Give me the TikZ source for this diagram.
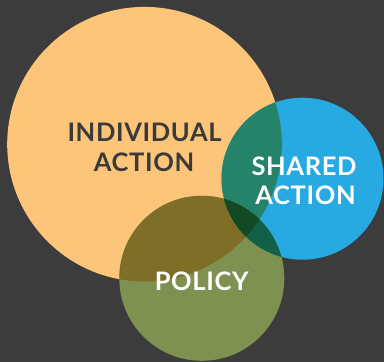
\documentclass[tikz,border=0pt]{standalone}
\usepackage{fontspec}
\setmainfont{Lato}[UprightFont=* Bold, LetterSpace=2.5]
\definecolor{bgc}{HTML}{3C3C3C}
\definecolor{orc}{HTML}{FCC57A}
\definecolor{blc}{HTML}{27A9E1}
\definecolor{grc}{HTML}{7F9150}
\definecolor{obc}{HTML}{248368}
\definecolor{ogc}{HTML}{7E6E27}
\definecolor{bgcc}{HTML}{126049}
\definecolor{obgc}{HTML}{144A23}
\definecolor{darktxt}{HTML}{3A3A3A}
\tikzset{
  lbl/.style={anchor=base, inner sep=0pt, font=\fontsize{25.5}{30}\selectfont},
  darklbl/.style={lbl, text=darktxt},
  lightlbl/.style={lbl, text=white}
}
\begin{document}
\begin{tikzpicture}[x=1pt,y=1pt]
\fill[bgc] (0,0) rectangle (384,362);
\useasboundingbox (0,0) rectangle (384,362);
\def\orange{(144.5,217.8) circle (137.3)}
\def\blue{(302.5,183.3) circle (81)}
\def\green{(201.8,83.7) circle (82.5)}
\fill[orc] \orange;
\fill[blc] \blue;
\fill[grc] \green;
\begin{scope}
  \clip \orange;
  \fill[obc] \blue;
  \fill[ogc] \green;
\end{scope}
\begin{scope}
  \clip \blue;
  \fill[bgcc] \green;
\end{scope}
\begin{scope}
  \clip \orange;
  \clip \blue;
  \fill[obgc] \green;
\end{scope}
\node[darklbl] (ind1) at (144.5,220) {INDIVIDUAL};
\node[darklbl] (ind2) at (144,190) {ACTION};
\node[lightlbl] (sh1) at (304,186) {SHARED};
\node[lightlbl] (sh2) at (305.5,157) {ACTION};
\node[lightlbl] (pol) at (201.7,71) {POLICY};
\end{tikzpicture}
\end{document}
